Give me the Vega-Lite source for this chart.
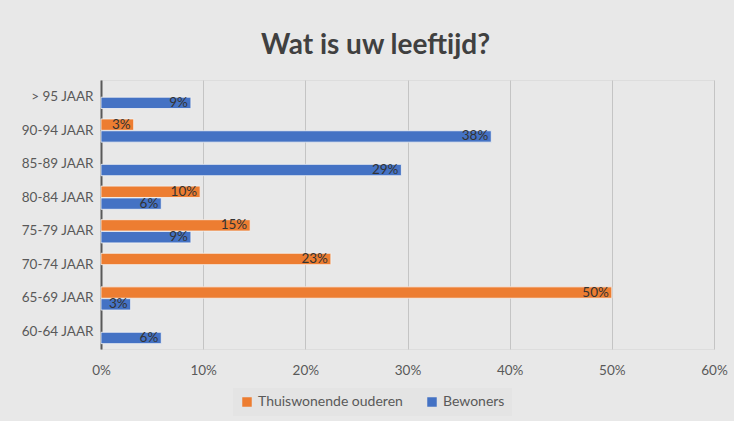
{
  "$schema": "https://vega.github.io/schema/vega-lite/v6.json",
  "autosize": "none",
  "width": 613,
  "height": 269,
  "padding": {"left": 101, "top": 80, "right": 20, "bottom": 72},
  "background": "#e8e8e8",
  "title": {
    "text": "Wat is uw leeftijd?",
    "font": "Lato",
    "fontSize": 28,
    "fontWeight": "bold",
    "color": "#404040",
    "anchor": "middle",
    "dx": -32,
    "offset": 20
  },
  "data": {
    "values": [
      {"age": "> 95 JAAR", "group": "Bewoners", "value": 0.088},
      {"age": "90-94 JAAR", "group": "Thuiswonende ouderen", "value": 0.032},
      {"age": "90-94 JAAR", "group": "Bewoners", "value": 0.382},
      {"age": "85-89 JAAR", "group": "Bewoners", "value": 0.294},
      {"age": "80-84 JAAR", "group": "Thuiswonende ouderen", "value": 0.097},
      {"age": "80-84 JAAR", "group": "Bewoners", "value": 0.059},
      {"age": "75-79 JAAR", "group": "Thuiswonende ouderen", "value": 0.146},
      {"age": "75-79 JAAR", "group": "Bewoners", "value": 0.088},
      {"age": "70-74 JAAR", "group": "Thuiswonende ouderen", "value": 0.225},
      {"age": "65-69 JAAR", "group": "Thuiswonende ouderen", "value": 0.5},
      {"age": "65-69 JAAR", "group": "Bewoners", "value": 0.029},
      {"age": "60-64 JAAR", "group": "Bewoners", "value": 0.059}
    ]
  },
  "encoding": {
    "y": {
      "field": "age",
      "type": "nominal",
      "sort": ["> 95 JAAR", "90-94 JAAR", "85-89 JAAR", "80-84 JAAR", "75-79 JAAR", "70-74 JAAR", "65-69 JAAR", "60-64 JAAR"],
      "scale": {"paddingInner": 0.31, "paddingOuter": 0.16},
      "axis": {
        "title": null,
        "ticks": false,
        "domainColor": "#595959",
        "domainWidth": 2,
        "labelFont": "Lato",
        "labelFontSize": 13.5,
        "labelColor": "#595959",
        "labelPadding": 8,
        "grid": false
      }
    },
    "yOffset": {
      "field": "group",
      "type": "nominal",
      "sort": ["Thuiswonende ouderen", "Bewoners"],
      "scale": {"paddingInner": 0.04}
    },
    "x": {
      "field": "value",
      "type": "quantitative",
      "scale": {"domain": [0, 0.6], "nice": false},
      "axis": {
        "title": null,
        "format": ".0%",
        "values": [0, 0.1, 0.2, 0.3, 0.4, 0.5, 0.6],
        "domain": false,
        "ticks": false,
        "grid": true,
        "gridColor": "#c4c4c4",
        "gridWidth": 1,
        "labelFlush": false,
        "labelFont": "Lato",
        "labelFontSize": 13.5,
        "labelColor": "#595959",
        "labelPadding": 14
      }
    }
  },
  "layer": [
    {
      "mark": {"type": "bar", "stroke": "#f4f4f4", "strokeWidth": 0.8},
      "encoding": {
        "color": {
          "field": "group",
          "type": "nominal",
          "scale": {"domain": ["Thuiswonende ouderen", "Bewoners"], "range": ["#ED7D31", "#4472C4"]},
          "legend": {
            "title": null,
            "orient": "none",
            "direction": "horizontal",
            "legendX": 132,
            "legendY": 308,
            "symbolType": "square",
            "symbolSize": 90,
            "symbolStrokeWidth": 0,
            "labelFont": "Lato",
            "labelFontSize": 14,
            "labelColor": "#595959",
            "columnPadding": 22,
            "padding": 7,
            "fillColor": "#e4e4e4"
          }
        }
      }
    },
    {
      "mark": {"type": "text", "align": "right", "dx": -3, "font": "Lato", "fontSize": 13.5, "color": "#333333"},
      "encoding": {
        "text": {"field": "value", "type": "quantitative", "format": ".0%"}
      }
    }
  ]
}
